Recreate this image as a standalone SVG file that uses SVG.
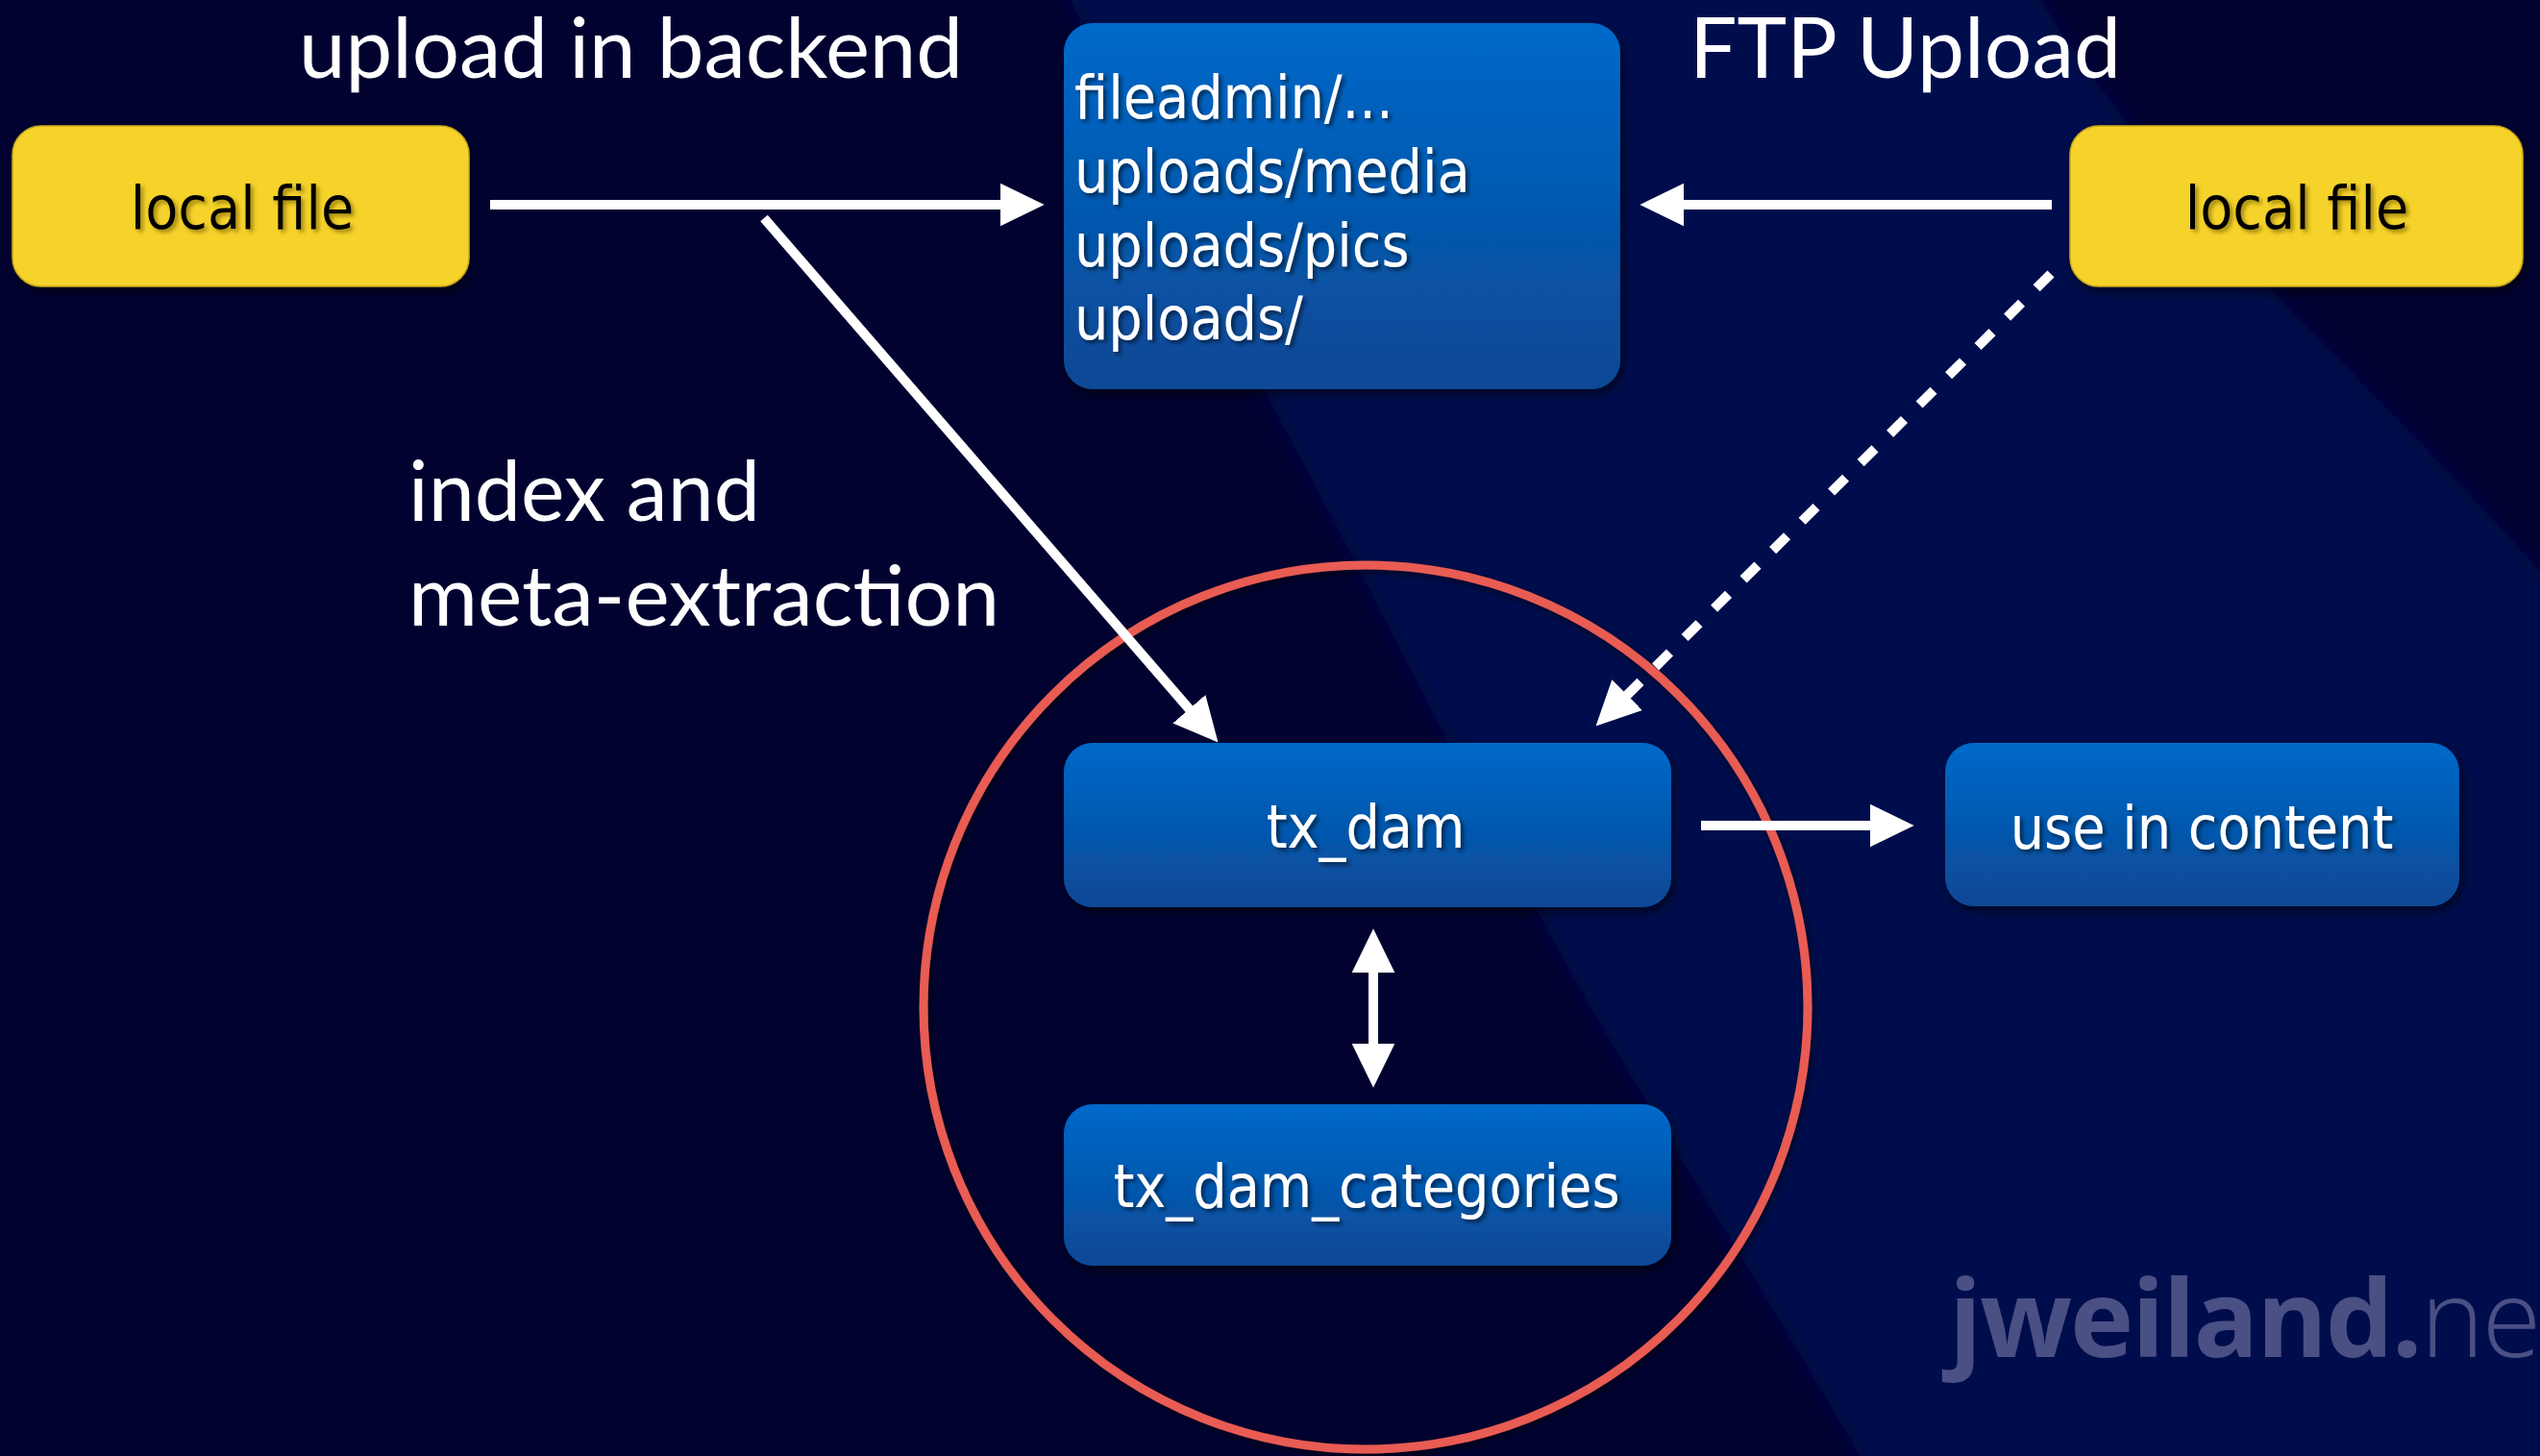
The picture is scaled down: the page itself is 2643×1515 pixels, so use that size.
<svg xmlns="http://www.w3.org/2000/svg" width="2643" height="1515" viewBox="0 0 2643 1515">
<defs>
<style>
.title{font-family:Lato,"Open Sans","DejaVu Sans",sans-serif;font-size:88px;fill:#ffffff;}
.lbl{font-family:"DejaVu Sans Condensed","DejaVu Sans",sans-serif;font-stretch:condensed;font-size:62px;}
.wt{fill:#ffffff;filter:url(#tshadow);}
.bk{fill:#000000;filter:url(#yshadow);}
.ybox{fill:#F6D32A;stroke:#C9A81E;stroke-width:1.5;filter:url(#bshadow);}
.bbox{fill:url(#bgrad);filter:url(#bshadow);}
.con{stroke:#ffffff;stroke-width:10;fill:none;}
.wm{font-family:"Open Sans","DejaVu Sans",sans-serif;font-size:112px;fill:#4A5083;letter-spacing:-2px;}
</style>
<linearGradient id="bgrad" x1="0" y1="0" x2="0" y2="1">
<stop offset="0" stop-color="#0069CA"/>
<stop offset="1" stop-color="#0A4894"/>
</linearGradient>
<filter id="bshadow" x="-10%" y="-10%" width="125%" height="130%">
<feDropShadow dx="3" dy="5" stdDeviation="6" flood-color="#000000" flood-opacity="0.6"/>
</filter>
<filter id="tshadow" x="-5%" y="-20%" width="115%" height="150%">
<feDropShadow dx="3" dy="3" stdDeviation="2" flood-color="#000000" flood-opacity="0.55"/>
</filter>
<filter id="yshadow" x="-5%" y="-20%" width="115%" height="150%">
<feDropShadow dx="3" dy="3" stdDeviation="2" flood-color="#6b5500" flood-opacity="0.6"/>
</filter>
<filter id="blur"><feGaussianBlur stdDeviation="10"/></filter>
<filter id="cshadow" x="-10%" y="-10%" width="120%" height="120%">
<feDropShadow dx="2" dy="3" stdDeviation="4" flood-color="#000000" flood-opacity="0.6"/>
</filter>
<marker id="ah" markerUnits="userSpaceOnUse" markerWidth="46" markerHeight="46" viewBox="0 0 45 44" refX="15" refY="22" orient="auto-start-reverse">
<path d="M0,0 L45,22 L0,44 Z" fill="#ffffff"/>
</marker>
</defs>

<g id="background">
<rect x="0" y="0" width="2643" height="1515" fill="#010230"/>
<path d="M1095,-40 C1200,190 1300,380 1360,490 C1460,680 1560,880 1650,1040 C1760,1230 1860,1380 1960,1560 L2700,1560 L2700,660 C2600,540 2480,420 2400,340 C2280,210 2180,100 2100,-40 Z" fill="#03074D" filter="url(#blur)"/>
</g>

<g id="watermark">
<text class="wm" x="2028" y="1412"><tspan font-weight="bold">jweiland.</tspan><tspan font-weight="300">ne</tspan></text>
</g>

<g id="titles">
<text class="title" x="311" y="81" textLength="691" lengthAdjust="spacingAndGlyphs">upload in backend</text>
<text class="title" x="1758" y="81" textLength="449" lengthAdjust="spacingAndGlyphs">FTP Upload</text>
<text class="title" x="425" y="542" textLength="366" lengthAdjust="spacingAndGlyphs">index and</text>
<text class="title" x="425" y="651" textLength="615" lengthAdjust="spacingAndGlyphs">meta-extraction</text>
</g>

<g id="circle">
<circle cx="1421" cy="1048" r="460" fill="none" stroke="#E85B52" stroke-width="9" filter="url(#cshadow)"/>
</g>

<g id="node-local-file-left">
<rect class="ybox" x="13" y="131" width="475" height="167" rx="30"/>
<text class="lbl bk" x="252" y="238" text-anchor="middle">local file</text>
</g>

<g id="node-local-file-right">
<rect class="ybox" x="2154" y="131" width="471" height="167" rx="30"/>
<text class="lbl bk" x="2390" y="238" text-anchor="middle">local file</text>
</g>

<g id="node-folders">
<rect class="bbox" x="1107" y="24" width="579" height="381" rx="30"/>
<text class="lbl wt" x="1118" y="123">fileadmin/...</text>
<text class="lbl wt" x="1118" y="200">uploads/media</text>
<text class="lbl wt" x="1118" y="277">uploads/pics</text>
<text class="lbl wt" x="1118" y="353">uploads/</text>
</g>

<g id="node-tx-dam">
<rect class="bbox" x="1107" y="773" width="632" height="171" rx="30"/>
<text class="lbl wt" x="1421" y="882" text-anchor="middle">tx_dam</text>
</g>

<g id="node-tx-dam-categories">
<rect class="bbox" x="1107" y="1149" width="632" height="168" rx="30"/>
<text class="lbl wt" x="1422" y="1256" text-anchor="middle">tx_dam_categories</text>
</g>

<g id="node-use-in-content">
<rect class="bbox" x="2024" y="773" width="535" height="170" rx="30"/>
<text class="lbl wt" x="2291" y="883" text-anchor="middle">use in content</text>
</g>

<g id="connectors">
<line class="con" x1="510" y1="213" x2="1056" y2="213" marker-end="url(#ah)"/>
<line class="con" x1="2135" y1="213" x2="1737" y2="213" marker-end="url(#ah)"/>
<line class="con" x1="795" y1="227" x2="1247.4" y2="749.3" stroke-width="8" marker-end="url(#ah)"/>
<line class="con" x1="2134" y1="285" x2="1682.3" y2="733.9" stroke-dasharray="21 22" marker-end="url(#ah)"/>
<line class="con" x1="1770" y1="859" x2="1961" y2="859" marker-end="url(#ah)"/>
<line class="con" x1="1429" y1="997" x2="1429" y2="1101" marker-start="url(#ah)" marker-end="url(#ah)"/>
</g>
</svg>
